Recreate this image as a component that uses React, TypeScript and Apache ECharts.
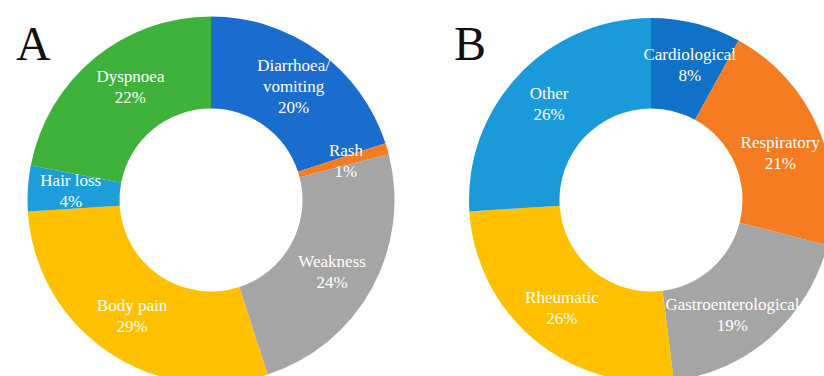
import React, { useEffect, useRef } from "react";
import * as echarts from "echarts";

// Panel A: symptoms
const symptomNames = ["Diarrhoea/\nvomiting", "Rash", "Weakness", "Body pain", "Hair loss", "Dyspnoea"];
const symptomShares = [20, 1, 24, 29, 4, 22];
const symptomColors = ["#1a6ccf", "#f57c20", "#a5a5a5", "#ffc000", "#1e9ddb", "#3fb23c"];

// Panel B: comorbidities
const comorbidityNames = ["Cardiological", "Respiratory", "Gastroenterological", "Rheumatic", "Other"];
const comorbidityShares = [8, 21, 19, 26, 26];
const comorbidityColors = ["#0f72c8", "#f57c20", "#a5a5a5", "#ffc000", "#1a9ad9"];

const panelLetters = ["A", "B"];

const serif = "Liberation Serif, Times New Roman, serif";

// small label nudges, keyed by series index then data index
const labelNudges: Record<string, [number, number]> = {
  "0-2": [-2, 4],
  "0-5": [9, -5],
  "1-0": [4, 0],
  "1-1": [1, 9],
  "1-2": [-11, 10],
};

const labelText = { color: "#ffffff", fontFamily: serif, fontSize: 17, lineHeight: 21, align: "center" };

function donut(names: string[], values: number[], colors: string[], center: [number, number], radius: [number, number]) {
  return {
    type: "pie",
    center,
    radius,
    startAngle: 90,
    clockwise: true,
    silent: true,
    avoidLabelOverlap: false,
    itemStyle: { borderWidth: 0 },
    label: {
      show: true,
      position: "inside",
      formatter: (p: any) =>
        String(p.name)
          .split("\n")
          .concat([`${p.value}%`])
          .map((line: string) => `{t|${line}}`)
          .join("\n"),
      ...labelText,
      rich: { t: labelText },
    },
    labelLayout: (p: any) => {
      const n = labelNudges[`${p.seriesIndex}-${p.dataIndex}`];
      return n ? { dx: n[0], dy: n[1] } : {};
    },
    labelLine: { show: false },
    data: names.map((n, i) => ({ name: n, value: values[i], itemStyle: { color: colors[i] } })),
  };
}

export default function App() {
  const ref = useRef<HTMLDivElement>(null);
  useEffect(() => {
    if (!ref.current) return;
    const chart = echarts.init(ref.current, undefined, { renderer: "svg" });
    chart.setOption({
      animation: false,
      backgroundColor: "#ffffff",
      textStyle: { fontFamily: serif },
      graphic: [
        {
          type: "text",
          left: 16,
          top: 19,
          style: { text: panelLetters[0], fontFamily: serif, fontSize: 48, fill: "#111111" },
        },
        {
          type: "text",
          left: 454,
          top: 19,
          style: { text: panelLetters[1], fontFamily: serif, fontSize: 48, fill: "#111111" },
        },
      ],
      series: [
        donut(symptomNames, symptomShares, symptomColors, [211, 200], [91.5, 183.5]),
        donut(comorbidityNames, comorbidityShares, comorbidityColors, [651, 200], [91.5, 182]),
      ],
    });
    return () => chart.dispose();
  }, []);
  return (
    <div
      ref={ref}
      style={{ position: "absolute", left: 0, top: 0, width: 824, height: 376, background: "#ffffff" }}
    />
  );
}
